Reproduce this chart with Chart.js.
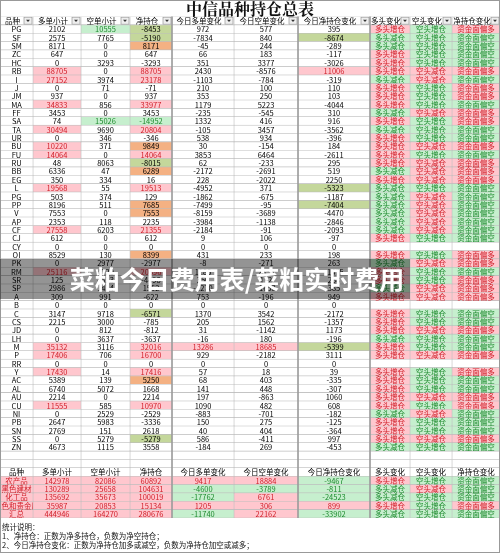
<!DOCTYPE html>
<html>
<head>
<meta charset="utf-8">
<script src="https://cdn.jsdelivr.net/npm/chart.js@4.4.0/dist/chart.umd.min.js"></script>
<style>
  body { margin: 0; background: #fff; }
  canvas { display: block; }
</style>
</head>
<body>
<canvas id="posChart" width="500" height="553"></canvas>
<script>
// Table data
const headers = ["品种", "多单小计", "空单小计", "净持仓", "今日多单变化", "今日空单变化", "今日净持仓变化", "多头变化", "空头变化", "净持仓变化"];
const codes = ["PG","SF","SM","ZC","HC","RB","I","J","JM","MA","FF","SA","TA","UR","BU","FU","RU","BB","EG","L","PG","PP","V","AP","CF","CJ","CY","OI","PK","RM","SR","SP","A","B","C","CS","JD","LH","M","P","RR","Y","AC","AL","AU","CU","NI","PB","SN","SS","ZN"];
const longQty = [2102,2575,8171,647,0,88705,27152,0,937,34833,3453,74,30494,0,10220,14064,48,6336,350,19568,503,8196,7553,2353,27558,612,0,8529,0,25116,125,2986,309,0,3147,2215,0,0,35132,17406,0,17430,5389,6740,2214,11555,0,2647,2769,0,4673];
const shortQty = [10555,7765,0,0,3293,0,3974,71,0,856,0,15026,9690,346,371,0,8063,47,334,55,374,511,0,118,6203,0,0,130,2977,4720,4623,1434,991,0,9718,3000,812,3637,3116,706,0,14,139,5072,0,585,2529,5983,151,5279,1115];
const netQty = [-8453,-5190,8171,647,-3293,88705,23178,-71,937,33977,3453,-14952,20804,-346,9849,14064,-8015,6289,16,19513,129,7685,7553,2235,21355,612,0,8399,-2977,20396,-4498,1552,-622,0,-6571,-785,-812,-3637,32016,16700,0,17416,5250,1668,2214,10970,-2529,-3336,2618,-5279,3558];
const longChg = [972,-7834,-45,66,351,2430,-1103,210,353,1179,-235,1332,-105,538,30,3853,62,-2172,228,-4952,-1862,-7499,-8159,-3984,-2184,9,0,431,-8,1180,350,-1270,753,0,1370,205,31,-16,13286,929,0,57,68,141,197,1090,-883,150,40,586,-184];
const shortChg = [577,840,244,183,3377,-8576,-784,100,250,5223,-545,416,3457,934,-154,6464,-233,-2691,-2022,371,-675,-95,-3689,-1138,-91,106,0,233,-271,2655,112,-1658,-196,0,3542,1562,-1142,180,18685,-2182,0,18,403,448,-863,482,-701,275,404,-411,269];
const netChg = [395,-8674,-289,-117,-3026,11006,-319,110,103,-4044,310,916,-3562,-396,184,-2611,295,519,2250,-5323,-1187,-7404,-4470,-2846,-2093,-97,0,198,263,-1475,238,385,949,0,-2172,-1357,1173,-196,-5399,3111,0,39,-335,-307,1060,608,-182,-125,-364,997,-453];

const groups = ["农产品", "黑色建材", "化工品", "有色和贵金属", "汇总"];
const gLong = [142978,130289,135692,35987,444946];
const gShort = [82086,25658,35673,20853,164270];
const gNet = [60892,104631,100019,15134,280676];
const gLongChg = [9417,-4600,-17762,1205,-11740];
const gShortChg = [18884,-3789,6761,306,22162];
const gNetChg = [-9467,-811,-24523,899,-33902];

const notes = ["统计说明：", "1、净持仓：正数为净多持仓，负数为净空持仓；", "2、今日净持仓变化：正数为净持仓加多或减空，负数为净持仓加空或减多；"];

// layout
const colEdges = [0, 33, 81, 130, 172, 234, 298, 370, 410, 452, 500];
const PINK = "#ffc7ce", PINK_T = "#d0202a", GREEN = "#c6efce", GREEN_T = "#1e8a2e";
const ORANGE = "#f4b183", OLIVE = "#c4d79b";

// build rows: header, items, 2 blanks, header, groups
const rows = [];
rows.push({ kind: "head", filter: true });
codes.forEach((c, i) => rows.push({ kind: "item", name: c, v: [longQty[i], shortQty[i], netQty[i], longChg[i], shortChg[i], netChg[i]] }));
rows.push({ kind: "blank" }, { kind: "blank" }, { kind: "head" });
groups.forEach((g, i) => rows.push({ kind: "group", name: g, v: [gLong[i], gShort[i], gNet[i], gLongChg[i], gShortChg[i], gNetChg[i]] }));

function signText(col, v) {
  if (col === 7) return v[3] > 0 ? ["多头增仓", PINK, PINK_T] : v[3] < 0 ? ["多头减仓", GREEN, GREEN_T] : null;
  if (col === 8) return v[4] > 0 ? ["空头增仓", GREEN, GREEN_T] : v[4] < 0 ? ["空头减仓", PINK, PINK_T] : null;
  if (col === 9) return v[5] > 0 ? ["资金面偏多", PINK, PINK_T] : v[5] < 0 ? ["资金面偏空", GREEN, GREEN_T] : null;
}

// returns [text, bg, fg]
function cell(r, col) {
  if (r.kind === "blank") return ["", "#fff", "#000"];
  if (r.kind === "head") return [headers[col], "#fff", "#000"];
  const v = r.v;
  if (col === 0) return r.kind === "group" ? [r.name, PINK, PINK_T] : [r.name, "#fff", "#000"];
  if (col >= 7) return signText(col, v) || ["", "#fff", "#000"];
  const x = v[col - 1];
  if (r.kind === "group") {
    if (col === 3 || x > 0) return [String(x), PINK, PINK_T];
    return [String(x), GREEN, GREEN_T];
  }
  let bg = "#fff", fg = "#000";
  if (col === 1 && x > 10000) { bg = PINK; fg = PINK_T; }
  if (col === 2 && x > 10000) { bg = GREEN; fg = GREEN_T; }
  if (col === 3) {
    if (x > 10000) { bg = PINK; fg = PINK_T; }
    else if (x >= 5000) bg = ORANGE;
    else if (x < -10000) { bg = GREEN; fg = GREEN_T; }
    else if (x <= -5000) bg = OLIVE;
  }
  if ((col === 4 || col === 5) && x > 10000) { bg = PINK; fg = PINK_T; }
  if (col === 6) {
    if (x > 10000) { bg = PINK; fg = PINK_T; }
    else if (x <= -5000) bg = OLIVE;
  }
  return [String(x), bg, fg];
}

const datasets = [];
for (let c = 0; c < 10; c++) {
  datasets.push({
    data: rows.map(() => [colEdges[c], colEdges[c + 1]]),
    backgroundColor: rows.map(r => cell(r, c)[1]),
    borderColor: "#bdbdbd",
    borderWidth: 0.6,
    borderSkipped: false,
    barPercentage: 1,
    categoryPercentage: 1,
    grouped: false
  });
}

const textPlugin = {
  id: "cellText",
  afterDatasetsDraw(chart) {
    const g = chart.ctx;
    const area = chart.chartArea;
    g.save();
    g.textBaseline = "middle";
    for (let c = 0; c < 10; c++) {
      const meta = chart.getDatasetMeta(c);
      meta.data.forEach((bar, i) => {
        const [txt, , fg] = cell(rows[i], c);
        if (!txt) return;
        const x0 = Math.min(bar.x, bar.base), x1 = Math.max(bar.x, bar.base);
        const filter = rows[i].filter;
        g.save();
        g.beginPath(); g.rect(x0, bar.y - bar.height / 2, x1 - x0, bar.height); g.clip();
        g.fillStyle = fg;
        g.font = "7.5px 'Noto Sans CJK SC'";
        g.textAlign = "center";
        g.fillText(txt, (x0 + x1) / 2 - (filter ? 4 : 0), bar.y + 0.5);
        if (filter) {
          // dropdown button
          const bx = x1 - 9, by = bar.y - 3.5;
          g.fillStyle = "#eee"; g.fillRect(bx, by, 8, 7);
          g.strokeStyle = "#888"; g.lineWidth = 0.6; g.strokeRect(bx, by, 8, 7);
          g.fillStyle = "#333";
          g.beginPath(); g.moveTo(bx + 2, by + 2.5); g.lineTo(bx + 6, by + 2.5); g.lineTo(bx + 4, by + 4.8); g.fill();
        }
        g.restore();
      });
    }
    // thicker divider
    g.strokeStyle = "#999"; g.lineWidth = 1.5;
    [172, 298, 370].forEach(x => { g.beginPath(); g.moveTo(x, area.top); g.lineTo(x, area.bottom); g.stroke(); });
    // title
    g.fillStyle = "#111";
    g.textAlign = "center";
    g.font = "bold 16px 'Noto Serif CJK SC', 'Noto Sans CJK SC'";
    g.fillText("中信品种持仓总表", 250, 8.5);
    // notes
    g.textAlign = "left";
    g.font = "7.5px 'Noto Sans CJK SC'";
    notes.forEach((n, k) => g.fillText(n, 2, 527 + k * 9));
    g.strokeStyle = "#999"; g.lineWidth = 1;
    g.strokeRect(0.5, 0.5, 499, 552);
    // overlay banner
    g.fillStyle = "rgba(0,0,0,0.42)";
    g.fillRect(0, 259, 410, 40);
    g.fillStyle = "#fff";
    g.textAlign = "center";
    g.font = "bold 25px 'Noto Sans CJK SC'";
    g.fillText("菜粕今日费用表/菜粕实时费用", 237, 279);
    g.restore();
  }
};

new Chart(document.getElementById("posChart").getContext("2d"), {
  type: "bar",
  data: { labels: rows.map((r, i) => i), datasets: datasets },
  options: {
    indexAxis: "y",
    responsive: false,
    animation: false,
    devicePixelRatio: 1,
    layout: { padding: { top: 16.5, bottom: 35, left: 0, right: 0 } },
    plugins: { legend: { display: false }, tooltip: { enabled: false } },
    scales: {
      x: { display: false, min: 0, max: 500 },
      y: { display: false }
    }
  },
  plugins: [textPlugin]
});
</script>
</body>
</html>
